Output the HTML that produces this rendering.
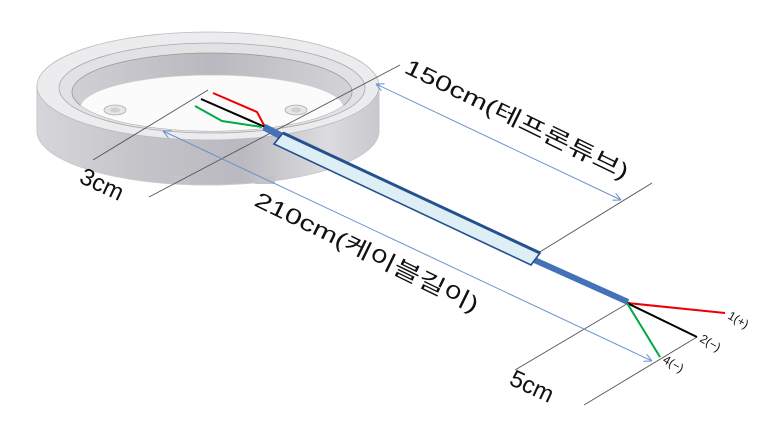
<!DOCTYPE html>
<html><head><meta charset="utf-8"><style>
html,body{margin:0;padding:0;background:#fff;}
svg{display:block;}
text{font-family:"Liberation Sans","Noto Sans CJK KR",sans-serif;fill:#111;}
</style></head><body>
<svg width="780" height="442" viewBox="0 0 780 442" xmlns="http://www.w3.org/2000/svg">
<defs>
<linearGradient id="body" x1="0" x2="1" y1="0" y2="0">
<stop offset="0" stop-color="#d6d6da"/><stop offset="0.3" stop-color="#c4c4c9"/><stop offset="0.6" stop-color="#b9b9bf"/><stop offset="0.85" stop-color="#dcdce0"/><stop offset="1" stop-color="#c8c8cd"/>
</linearGradient>
<linearGradient id="wall" x1="0" x2="1" y1="0" y2="0">
<stop offset="0" stop-color="#d0d0d5"/><stop offset="0.5" stop-color="#b8b8be"/><stop offset="1" stop-color="#d4d4d8"/>
</linearGradient>
<clipPath id="open"><ellipse cx="212" cy="92" rx="140" ry="39"/></clipPath>
<marker id="ar" viewBox="0 0 10 10" refX="10" refY="5" markerWidth="8" markerHeight="8" orient="auto-start-reverse" markerUnits="userSpaceOnUse">
<path d="M0,0 L10,5 L0,10" fill="none" stroke="#6a92cc" stroke-width="1.3"/>
</marker>
</defs>
<path d="M37,86 L37,131 A171,54 0 0 0 379,131 L379,86 Z" fill="url(#body)" stroke="#c8c8cc"/>
<ellipse cx="208" cy="86" rx="171" ry="54" fill="#ececee" stroke="#bbb" stroke-width="0.8"/>
<ellipse cx="212" cy="88" rx="153" ry="45" fill="#e2e2e5" stroke="#aaa" stroke-width="0.8"/>
<ellipse cx="212" cy="92" rx="140" ry="39" fill="url(#wall)" stroke="#999" stroke-width="0.8"/>
<g clip-path="url(#open)">
<ellipse cx="212" cy="108" rx="132" ry="33" fill="#fbfbfc" stroke="#ccc" stroke-width="0.8"/>
</g>
<ellipse cx="115" cy="110" rx="11" ry="5" fill="#e6e6e8" stroke="#aaa" stroke-width="0.8"/>
<ellipse cx="115" cy="110" rx="5" ry="2.5" fill="#d0d0d3"/>
<ellipse cx="296" cy="110" rx="11" ry="5" fill="#e6e6e8" stroke="#aaa" stroke-width="0.8"/>
<ellipse cx="296" cy="110" rx="5" ry="2.5" fill="#d0d0d3"/>
<rect x="170" y="176" width="20" height="8" fill="#c2c2c7"/>
<rect x="255" y="176" width="20" height="8" fill="#c2c2c7"/>
<g stroke="#555" stroke-width="0.9">
<line x1="93" y1="160" x2="208" y2="90"/>
<line x1="149" y1="197" x2="400" y2="65"/>
<line x1="530" y1="258" x2="652" y2="183"/>
<line x1="515" y1="370" x2="630" y2="302"/>
<line x1="584" y1="405" x2="697" y2="337"/>
</g>
<line x1="376" y1="84" x2="621" y2="200" stroke="#6a92cc" stroke-width="1" marker-start="url(#ar)" marker-end="url(#ar)"/>
<line x1="163" y1="131" x2="652" y2="361" stroke="#6a92cc" stroke-width="1" marker-start="url(#ar)" marker-end="url(#ar)"/>
<polyline points="213,93 257,112 265,127" fill="none" stroke="#e00" stroke-width="2"/>
<polyline points="201,99 265,127" fill="none" stroke="#000" stroke-width="2"/>
<polyline points="195,106 222,121 262,127" fill="none" stroke="#0a4" stroke-width="2"/>
<line x1="264" y1="127" x2="285" y2="138" stroke="#4472b8" stroke-width="7"/>
<line x1="530" y1="258" x2="628" y2="302" stroke="#4472b8" stroke-width="6"/>
<polygon points="283,133 540,253 531,265 274,144" fill="#deeef5" stroke="#24508f" stroke-width="1.6"/>
<line x1="283" y1="133" x2="540" y2="253" stroke="#24508f" stroke-width="3"/>
<line x1="627" y1="303" x2="725" y2="313" stroke="#e00" stroke-width="2"/>
<line x1="627" y1="303" x2="697" y2="337" stroke="#000" stroke-width="2"/>
<line x1="627" y1="303" x2="660" y2="357" stroke="#0a4" stroke-width="2"/>
<text x="403" y="72" font-size="22" transform="rotate(26 403 72)" textLength="246" lengthAdjust="spacingAndGlyphs">150cm(테프론튜브)</text>
<text x="253" y="205" font-size="22" transform="rotate(26 253 205)" textLength="246" lengthAdjust="spacingAndGlyphs">210cm(케이블길이)</text>
<text x="78" y="182" font-size="24" transform="rotate(25 78 182)">3cm</text>
<text x="508" y="384" font-size="24" transform="rotate(25 508 384)">5cm</text>
<text x="727" y="318" font-size="12" transform="rotate(30 727 318)">1(+)</text>
<text x="699" y="341" font-size="12" transform="rotate(30 699 341)">2(−)</text>
<text x="662" y="362" font-size="12" transform="rotate(30 662 362)">4(−)</text>
</svg>
</body></html>
